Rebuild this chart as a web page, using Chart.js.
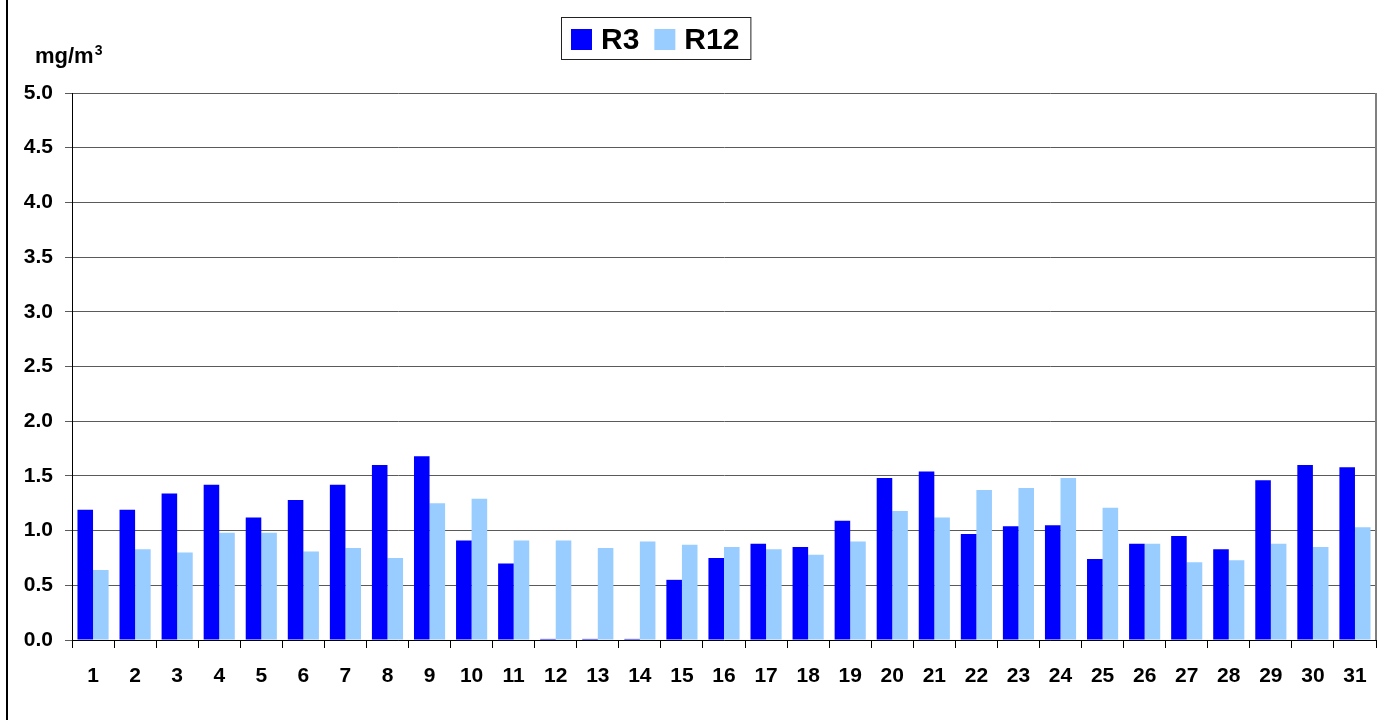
<!DOCTYPE html>
<html>
<head>
<meta charset="utf-8">
<title>R3 / R12</title>
<script src="https://cdn.jsdelivr.net/npm/chart.js@4.4.1/dist/chart.umd.min.js"></script>
<style>
  html, body { margin: 0; padding: 0; background: #fff; }
  #chart { display: block; }
</style>
</head>
<body>
<canvas id="chart" width="1387" height="720"></canvas>
<script>
// dias do mes
const days = ['1', '2', '3', '4', '5', '6', '7', '8', '9', '10', '11', '12', '13', '14', '15', '16',
  '17', '18', '19', '20', '21', '22', '23', '24', '25', '26', '27', '28', '29', '30', '31'];

// valores (mg/m3)
const r3Values = [1.19, 1.19, 1.34, 1.42, 1.12, 1.28, 1.42, 1.60, 1.68, 0.91, 0.70, 0.01, 0.01, 0.01, 0.55, 0.75,
  0.88, 0.85, 1.09, 1.48, 1.54, 0.97, 1.04, 1.05, 0.74, 0.88, 0.95, 0.83, 1.46, 1.60, 1.58];
const r12Values = [0.64, 0.83, 0.80, 0.98, 0.98, 0.81, 0.84, 0.75, 1.25, 1.29, 0.91, 0.91, 0.84, 0.90, 0.87, 0.85,
  0.83, 0.78, 0.90, 1.18, 1.12, 1.37, 1.39, 1.48, 1.21, 0.88, 0.71, 0.73, 0.88, 0.85, 1.03];

const seriesNames = ['R3', 'R12'];
const seriesColors = ['#0000ff', '#99ccff'];
const yMin = 0;
const yMax = 5;
const yStep = 0.5;
const unitText = 'mg/m';
const unitSup = '3';

const FONT = "'Liberation Sans', Arial, sans-serif";

// desenha a moldura, a unidade e a legenda com caixa
const decorations = {
  id: 'decorations',
  afterDraw(chart) {
    const ctx = chart.ctx;
    const area = chart.chartArea;
    ctx.save();

    // linha da moldura externa (esquerda)
    ctx.fillStyle = '#000';
    ctx.fillRect(6, 0, 2, chart.height);

    // borda direita da area do grafico
    ctx.strokeStyle = '#808080';
    ctx.lineWidth = 2;
    ctx.beginPath();
    ctx.moveTo(area.right, area.top);
    ctx.lineTo(area.right, area.bottom);
    ctx.stroke();

    // unidade do eixo y
    ctx.fillStyle = '#000';
    ctx.textBaseline = 'alphabetic';
    ctx.textAlign = 'left';
    ctx.font = 'bold 22px ' + FONT;
    ctx.fillText(unitText, 35, 63);
    const w = ctx.measureText(unitText).width;
    ctx.font = 'bold 14px ' + FONT;
    ctx.fillText(unitSup, 35 + w + 1, 55);

    // legenda
    ctx.font = 'bold 30px ' + FONT;
    let x = 571;
    const boxTop = 29;
    const boxSize = 21;
    chart.data.datasets.forEach((ds, i) => {
      ctx.fillStyle = ds.backgroundColor;
      ctx.fillRect(x, boxTop, boxSize, boxSize);
      x += boxSize + 9;
      ctx.fillStyle = '#000';
      ctx.fillText(ds.label, x, 49);
      x += ctx.measureText(ds.label).width;
      if (i < chart.data.datasets.length - 1) x += 15;
    });
    ctx.strokeStyle = '#222';
    ctx.lineWidth = 1;
    ctx.strokeRect(561.5, 17.5, x + 11 - 561, 42);

    ctx.restore();
  }
};

const ctx = document.getElementById('chart').getContext('2d');
const chart = new Chart(ctx, {
  type: 'bar',
  data: {
    labels: days,
    datasets: [{
      label: seriesNames[0],
      data: r3Values,
      backgroundColor: seriesColors[0],
      borderWidth: 0
    }, {
      label: seriesNames[1],
      data: r12Values,
      backgroundColor: seriesColors[1],
      borderWidth: 0
    }]
  },
  options: {
    responsive: false,
    animation: false,
    categoryPercentage: 0.74,
    barPercentage: 1.0,
    layout: {
      padding: { top: 93, right: 11, bottom: 0, left: 0 }
    },
    plugins: {
      legend: { display: false },
      tooltip: { enabled: false }
    },
    scales: {
      x: {
        grid: {
          offset: true,
          drawOnChartArea: false,
          drawTicks: true,
          tickLength: 8,
          color: '#000'
        },
        border: { color: '#000', width: 1 },
        ticks: {
          color: '#000',
          padding: 16,
          maxRotation: 0,
          autoSkip: false,
          font: { family: FONT, size: 21, weight: 'bold' }
        },
        afterFit(scale) {
          scale.height = 80;
        }
      },
      y: {
        min: yMin,
        max: yMax,
        grid: {
          color: '#5a5a5a',
          tickLength: 7,
          drawTicks: true
        },
        border: { color: '#000', width: 1 },
        ticks: {
          stepSize: yStep,
          color: '#000',
          padding: 12,
          font: { family: FONT, size: 21, weight: 'bold' },
          callback: (v) => Number(v).toFixed(1)
        },
        afterFit(scale) {
          scale.width = 72;
        }
      }
    }
  },
  plugins: [decorations]
});
</script>
</body>
</html>
